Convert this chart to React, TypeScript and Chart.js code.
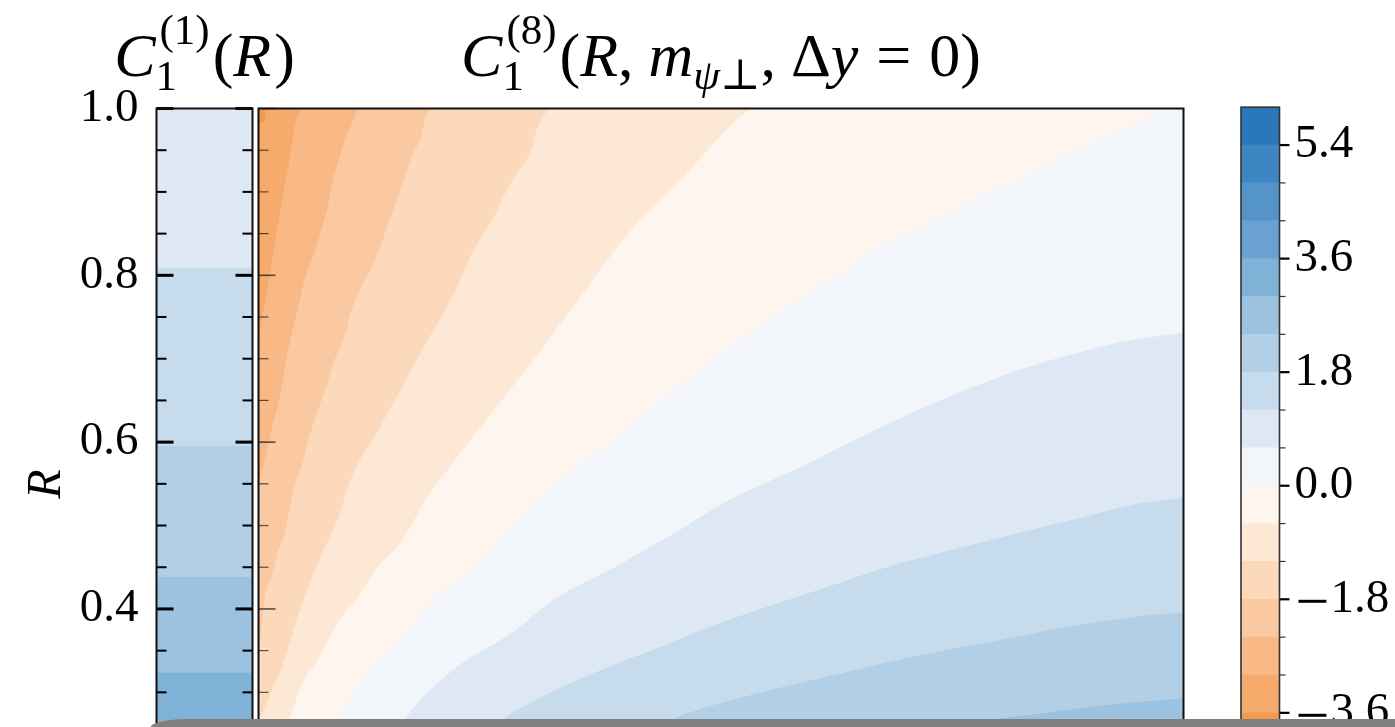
import React, { useEffect, useRef } from 'react';
import { Chart, registerables } from 'chart.js';

Chart.register(...registerables);

const W = 1395;
const H = 800;
const FONT = '"Liberation Serif", "DejaVu Serif", serif';

// Shared colour levels (step 0.6) and the colour of each band between them
const levelEdges = [-4.2, -3.6, -3.0, -2.4, -1.8, -1.2, -0.6, 0.0, 0.6, 1.2, 1.8, 2.4, 3.0, 3.6, 4.2, 4.8, 5.4, 6.0];
const bandColors = [
  '#f49b53', '#f6aa6c', '#f8b987', '#fac9a1', '#fcd9bb', '#fde7d5', '#fef5ee',
  '#f2f6fb', '#dde8f4', '#c6dbec', '#b2cfe6', '#9cc2e0', '#80b1d7', '#69a2d0',
  '#5594c9', '#3e86c2', '#2a78b9',
];
const colorbarTicks = [-3.6, -1.8, 0.0, 1.8, 3.6, 5.4];
const colorbarMinorTicks = [-4.2, -3.0, -2.4, -1.2, -0.6, 0.6, 1.2, 2.4, 3.0, 4.2, 4.8];

// R axis
const rRange = [0.26, 1.0];
const rMajorTicks = [0.4, 0.6, 0.8, 1.0];
const rMinorTicks = [0.3, 0.35, 0.45, 0.5, 0.55, 0.65, 0.7, 0.75, 0.85, 0.9, 0.95];

// C1^(1)(R): band edges in R and the value inside each band
const c1REdges = [0.26, 0.323, 0.438, 0.595, 0.808, 1.0];
const c1Values = [3.3, 2.7, 2.1, 1.5, 0.9];

// m_psi_perp axis of the main panel
const mRange = [0, 10];

// Contour lines of C1^(8)(R, m, dy=0) as [m, R] points, one list per level
const contourLevels = [-3.6, -3.0, -2.4, -1.8, -1.2, -0.6, 0.0, 0.6, 1.2, 1.8, 2.4];
const contourM36 = [[0, 0.983], [0.07, 0.983], [0.076, 1.0]];
const contourM30 = [[0, 0.728], [0.086, 0.776], [0.141, 0.815], [0.205, 0.857], [0.27, 0.899], [0.335, 0.938], [0.4, 0.983], [0.454, 1.0]];
const contourM24 = [[0, 0.549], [0.076, 0.582], [0.141, 0.615], [0.205, 0.642], [0.259, 0.672], [0.314, 0.707], [0.378, 0.738], [0.454, 0.774], [0.53, 0.806], [0.595, 0.824], [0.67, 0.851], [0.746, 0.881], [0.8, 0.911], [0.865, 0.938], [0.941, 0.965], [1.016, 0.983], [1.07, 1.0]];
const contourM18 = [[0, 0.339], [0.076, 0.419], [0.141, 0.438], [0.205, 0.468], [0.27, 0.486], [0.4, 0.551], [0.476, 0.575], [0.53, 0.599], [0.595, 0.623], [0.67, 0.647], [0.746, 0.671], [0.811, 0.695], [0.941, 0.731], [0.995, 0.755], [1.135, 0.791], [1.265, 0.82], [1.351, 0.845], [1.405, 0.863], [1.535, 0.902], [1.665, 0.944], [1.751, 0.965], [1.805, 0.989], [1.881, 1.0]];
const contourM12 = [[0, 0.264], [0.13, 0.299], [0.27, 0.335], [0.4, 0.383], [0.67, 0.462], [0.865, 0.51], [0.995, 0.555], [1.297, 0.615], [1.589, 0.674], [1.859, 0.728], [2.151, 0.786], [2.259, 0.815], [2.4, 0.845], [2.541, 0.869], [2.67, 0.899], [2.8, 0.923], [2.941, 0.947], [3.016, 0.977], [3.135, 1.0]];
const contourM06 = [[0, 0.26], [0.292, 0.26], [0.335, 0.269], [0.454, 0.306], [0.638, 0.339], [0.854, 0.383], [1.07, 0.414], [1.286, 0.45], [1.535, 0.479], [1.805, 0.531], [2.043, 0.567], [2.541, 0.638], [3.049, 0.71], [3.557, 0.786], [3.881, 0.834], [4.054, 0.858], [4.346, 0.89], [4.595, 0.918], [4.886, 0.954], [5.135, 0.983], [5.319, 1.0]];
const contour00 = [[0, 0.26], [0.822, 0.26], [0.865, 0.269], [0.995, 0.294], [1.232, 0.33], [1.535, 0.363], [1.881, 0.411], [2.335, 0.45], [2.67, 0.491], [2.995, 0.531], [3.805, 0.6], [4.562, 0.669], [5.319, 0.731], [6.054, 0.786], [6.324, 0.803], [6.649, 0.83], [7.081, 0.854], [7.405, 0.87], [7.805, 0.896], [8.27, 0.917], [8.595, 0.938], [9.07, 0.962], [9.568, 0.986], [9.859, 1.0]];
const contour06 = [[0, 0.26], [1.524, 0.26], [1.589, 0.269], [1.751, 0.291], [2.141, 0.33], [2.735, 0.371], [3.189, 0.411], [3.849, 0.45], [4.497, 0.491], [5.092, 0.531], [5.859, 0.57], [6.4, 0.6], [6.941, 0.629], [7.589, 0.66], [8.238, 0.687], [8.886, 0.708], [9.427, 0.722], [10, 0.731]];
const contour12 = [[0, 0.26], [2.519, 0.26], [2.735, 0.275], [3.254, 0.305], [3.751, 0.329], [4.335, 0.354], [4.865, 0.378], [5.481, 0.402], [6.141, 0.426], [6.789, 0.45], [7.611, 0.474], [8.465, 0.498], [8.919, 0.51], [9.449, 0.525], [10, 0.533]];
const contour18 = [[0, 0.26], [4.292, 0.26], [4.497, 0.269], [4.8, 0.281], [5.189, 0.293], [5.611, 0.305], [6.076, 0.317], [6.53, 0.329], [6.995, 0.341], [7.546, 0.353], [8.141, 0.365], [8.724, 0.378], [9.449, 0.39], [10, 0.396]];
const contour24 = [[0, 0.26], [7.395, 0.26], [8.043, 0.269], [8.465, 0.275], [8.886, 0.281], [9.351, 0.287], [10, 0.293]];
const contourLines = [contourM36, contourM30, contourM24, contourM18, contourM12, contourM06, contour00, contour06, contour12, contour18, contour24];

function bandColor(v: number): string {
  for (let i = 0; i < bandColors.length; i++) {
    if (v >= levelEdges[i] && v < levelEdges[i + 1]) return bandColors[i];
  }
  return v < levelEdges[0] ? bandColors[0] : bandColors[bandColors.length - 1];
}

// ---- simple math-style text runs (sub/superscripts) ----
type Piece = any;
function fontOf(p: Piece) {
  return `${p.it ? 'italic ' : ''}${p.sz}px ${FONT}`;
}
function widthOf(ctx: CanvasRenderingContext2D, p: Piece): number {
  if (p.sup) return Math.max(runWidth(ctx, p.sup), runWidth(ctx, p.sub));
  if (p.gap !== undefined) return p.gap;
  ctx.font = fontOf(p);
  return ctx.measureText(p.t).width;
}
function runWidth(ctx: CanvasRenderingContext2D, run: Piece[]) {
  return run.reduce((s, p) => s + widthOf(ctx, p), 0);
}
function drawRun(ctx: CanvasRenderingContext2D, run: Piece[], x: number, base: number) {
  for (const p of run) {
    if (p.sup) {
      drawRun(ctx, p.sup, x, base);
      drawRun(ctx, p.sub, x, base);
    } else if (p.t) {
      ctx.font = fontOf(p);
      ctx.fillText(p.t, x, base - (p.rise || 0));
    }
    x += widthOf(ctx, p);
  }
}
function drawCentered(ctx: CanvasRenderingContext2D, run: Piece[], cx: number, base: number) {
  ctx.save();
  ctx.fillStyle = '#000';
  ctx.textAlign = 'left';
  ctx.textBaseline = 'alphabetic';
  const w = runWidth(ctx, run);
  drawRun(ctx, run, cx - w / 2, base);
  ctx.restore();
}

const T = 62;
const S = 43;
const titleLeft: Piece[] = [
  { t: 'C', it: true, sz: T },
  { sup: [{ gap: 4 }, { t: '(1)', sz: S, rise: 32 }], sub: [{ t: '1', sz: S, rise: -14 }] },
  { gap: 3 },
  { t: '(', sz: T },
  { t: 'R', it: true, sz: T },
  { gap: 3 },
  { t: ')', sz: T },
];
const titleMain: Piece[] = [
  { t: 'C', it: true, sz: T },
  { sup: [{ gap: 4 }, { t: '(8)', sz: S, rise: 32 }], sub: [{ t: '1', sz: S, rise: -14 }] },
  { gap: 3 },
  { t: '(', sz: T },
  { t: 'R', it: true, sz: T },
  { t: ',', sz: T },
  { gap: 15 },
  { t: 'm', it: true, sz: T },
  { t: '\u03c8', it: true, sz: S, rise: -13 },
  { t: '\u22a5', sz: S, rise: -13 },
  { t: ',', sz: T },
  { gap: 15 },
  { t: '\u0394', sz: T },
  { t: 'y', it: true, sz: T },
  { gap: 18 },
  { t: '=', sz: T },
  { gap: 18 },
  { t: '0', sz: T },
  { t: ')', sz: T },
];

function tick(ctx: CanvasRenderingContext2D, x0: number, y0: number, x1: number, y1: number, w: number) {
  ctx.lineWidth = w;
  ctx.beginPath();
  ctx.moveTo(x0, y0);
  ctx.lineTo(x1, y1);
  ctx.stroke();
}

const baseOptions = {
  responsive: false,
  animation: false as const,
  events: [] as any[],
  plugins: { legend: { display: false }, tooltip: { enabled: false }, title: { display: false } },
};

// Narrow panel: C1^(1)(R)
function makeLeft(canvas: HTMLCanvasElement) {
  const frame = {
    id: 'leftFrame',
    afterDraw(chart: any) {
      const { ctx, chartArea: a } = chart;
      const y = chart.scales.y;
      ctx.save();
      ctx.strokeStyle = '#000';
      for (const v of rMajorTicks) {
        const py = y.getPixelForValue(v);
        tick(ctx, a.left, py, a.left + 17, py, 3);
        tick(ctx, a.right - 17, py, a.right, py, 3);
      }
      for (const v of rMinorTicks) {
        const py = y.getPixelForValue(v);
        tick(ctx, a.left, py, a.left + 10, py, 2);
        tick(ctx, a.right - 10, py, a.right, py, 2);
      }
      ctx.lineWidth = 2;
      ctx.strokeStyle = '#111';
      ctx.beginPath();
      ctx.moveTo(a.left, a.bottom + 5);
      ctx.lineTo(a.left, a.top);
      ctx.lineTo(a.right, a.top);
      ctx.lineTo(a.right, a.bottom + 5);
      ctx.stroke();
      // axis label
      ctx.fillStyle = '#000';
      ctx.font = `italic 48px ${FONT}`;
      ctx.textAlign = 'center';
      ctx.textBaseline = 'middle';
      ctx.translate(47, 484);
      ctx.rotate(-Math.PI / 2);
      ctx.fillText('R', 0, 0);
      ctx.restore();
      drawCentered(ctx, titleLeft, (a.left + a.right) / 2, 76);
    },
  };
  return new Chart(canvas, {
    type: 'bar',
    data: {
      labels: ['C1'],
      datasets: c1Values.map((v, i) => ({
        data: [[c1REdges[i], c1REdges[i + 1]]],
        backgroundColor: bandColor(v),
        borderWidth: 0,
        barPercentage: 1,
        categoryPercentage: 1,
        grouped: false,
      })),
    } as any,
    options: {
      ...baseOptions,
      layout: { padding: { left: 0, top: 108.5, right: W - 252.5, bottom: H - 725.7 } },
      scales: {
        x: { display: false },
        y: {
          min: rRange[0],
          max: rRange[1],
          position: 'left',
          afterBuildTicks: (s: any) => { s.ticks = rMajorTicks.map((v) => ({ value: v })); },
          afterFit: (s: any) => { s.width = 156.5; },
          grid: { display: false, drawTicks: false },
          border: { display: false },
          ticks: {
            padding: 18,
            color: '#000',
            font: { family: FONT, size: 47 },
            callback: (v: any) => Number(v).toFixed(1),
          },
        },
      },
    } as any,
    plugins: [frame],
  });
}

// Main panel: filled contours of C1^(8)
function makeMain(canvas: HTMLCanvasElement) {
  const frame = {
    id: 'mainFrame',
    beforeDatasetsDraw(chart: any) {
      const { ctx, chartArea: a } = chart;
      ctx.save();
      ctx.fillStyle = bandColor(contourLevels[contourLevels.length - 1] + 0.3);
      ctx.fillRect(a.left, a.top, a.right - a.left, a.bottom - a.top);
      ctx.restore();
    },
    afterDraw(chart: any) {
      const { ctx, chartArea: a } = chart;
      const y = chart.scales.y;
      ctx.save();
      ctx.strokeStyle = 'rgba(20,20,20,0.7)';
      for (const v of rMajorTicks) {
        const py = y.getPixelForValue(v);
        tick(ctx, a.left, py, a.left + 17, py, 1.6);
      }
      for (const v of rMinorTicks) {
        const py = y.getPixelForValue(v);
        tick(ctx, a.left, py, a.left + 10, py, 1.2);
      }
      ctx.lineWidth = 2;
      ctx.strokeStyle = '#111';
      ctx.beginPath();
      ctx.moveTo(a.left, a.bottom + 5);
      ctx.lineTo(a.left, a.top);
      ctx.lineTo(a.right, a.top);
      ctx.lineTo(a.right, a.bottom + 5);
      ctx.stroke();
      ctx.restore();
      drawCentered(ctx, titleMain, (a.left + a.right) / 2, 76);
    },
  };
  return new Chart(canvas, {
    type: 'line',
    data: {
      datasets: contourLines.map((pts, i) => ({
        data: pts.map(([m, r]) => ({ x: m, y: r })),
        fill: 'end',
        backgroundColor: bandColor(contourLevels[i] - 0.3),
        borderColor: 'rgba(0,0,0,0)',
        borderWidth: 0,
        pointRadius: 0,
        cubicInterpolationMode: 'monotone',
      })),
    } as any,
    options: {
      ...baseOptions,
      layout: { padding: { left: 258.5, top: 108.5, right: W - 1183.5, bottom: H - 725.7 } },
      scales: {
        x: { type: 'linear', min: mRange[0], max: mRange[1], display: false },
        y: { type: 'linear', min: rRange[0], max: rRange[1], display: false },
      },
    } as any,
    plugins: [frame],
  });
}

// Colour bar
function makeBar(canvas: HTMLCanvasElement) {
  const frame = {
    id: 'barFrame',
    afterDraw(chart: any) {
      const { ctx, chartArea: a } = chart;
      const y = chart.scales.y;
      ctx.save();
      ctx.strokeStyle = '#000';
      for (const v of colorbarTicks) {
        const py = y.getPixelForValue(v);
        tick(ctx, a.right, py, a.right + 10, py, 2.2);
      }
      ctx.strokeStyle = '#333';
      for (const v of colorbarMinorTicks) {
        const py = y.getPixelForValue(v);
        tick(ctx, a.right, py, a.right + 6, py, 1.2);
      }
      ctx.lineWidth = 1.6;
      ctx.strokeStyle = '#333';
      ctx.strokeRect(a.left, a.top, a.right - a.left, a.bottom - a.top);

      // tick labels, with a long math minus sign for negative values
      ctx.fillStyle = '#000';
      ctx.textAlign = 'left';
      const x0 = a.right + 15;
      for (const v of colorbarTicks) {
        const py = y.getPixelForValue(v);
        const digits = Math.abs(v).toFixed(1);
        if (v < -1e-9) {
          ctx.font = `60px ${FONT}`;
          ctx.textBaseline = 'alphabetic';
          const mm = ctx.measureText('\u2212');
          const mid = (mm.actualBoundingBoxAscent - mm.actualBoundingBoxDescent) / 2;
          ctx.fillText('\u2212', x0 + 3 + mm.actualBoundingBoxLeft, py + 2 + mid);
          ctx.font = `47px ${FONT}`;
          ctx.textBaseline = 'middle';
          ctx.fillText(digits, x0 + 36, py);
        } else {
          ctx.font = `47px ${FONT}`;
          ctx.textBaseline = 'middle';
          ctx.fillText(digits, x0, py);
        }
      }
      ctx.restore();
    },
  };
  return new Chart(canvas, {
    type: 'bar',
    data: {
      labels: ['cb'],
      datasets: bandColors.map((c, i) => ({
        data: [[levelEdges[i], levelEdges[i + 1]]],
        backgroundColor: c,
        borderWidth: 0,
        barPercentage: 1,
        categoryPercentage: 1,
        grouped: false,
      })),
    } as any,
    options: {
      ...baseOptions,
      layout: { padding: { left: 1241, top: 107.2, right: W - 1279.5, bottom: H - 750.7 } },
      scales: {
        x: { display: false },
        y: {
          min: levelEdges[0],
          max: levelEdges[levelEdges.length - 1],
          display: false,
        },
      },
    } as any,
    plugins: [frame],
  });
}

export default function App() {
  const leftRef = useRef<HTMLCanvasElement>(null);
  const mainRef = useRef<HTMLCanvasElement>(null);
  const barRef = useRef<HTMLCanvasElement>(null);

  useEffect(() => {
    const charts = [
      makeMain(mainRef.current as HTMLCanvasElement),
      makeLeft(leftRef.current as HTMLCanvasElement),
      makeBar(barRef.current as HTMLCanvasElement),
    ];
    return () => charts.forEach((c) => c.destroy());
  }, []);

  const cs: React.CSSProperties = { position: 'absolute', left: 0, top: 0, width: W, height: H, display: 'block' };
  return (
    <div style={{ position: 'fixed', left: 0, top: 0, width: W, height: 727, overflow: 'hidden', background: '#fff' }}>
      <canvas ref={mainRef} width={W} height={H} style={cs} />
      <canvas ref={leftRef} width={W} height={H} style={cs} />
      <canvas ref={barRef} width={W} height={H} style={cs} />
      <div
        style={{
          position: 'absolute',
          left: 150,
          top: 718.5,
          width: W - 150,
          height: 12,
          background: '#808080',
          borderTopLeftRadius: '37px 9px',
        }}
      />
    </div>
  );
}
